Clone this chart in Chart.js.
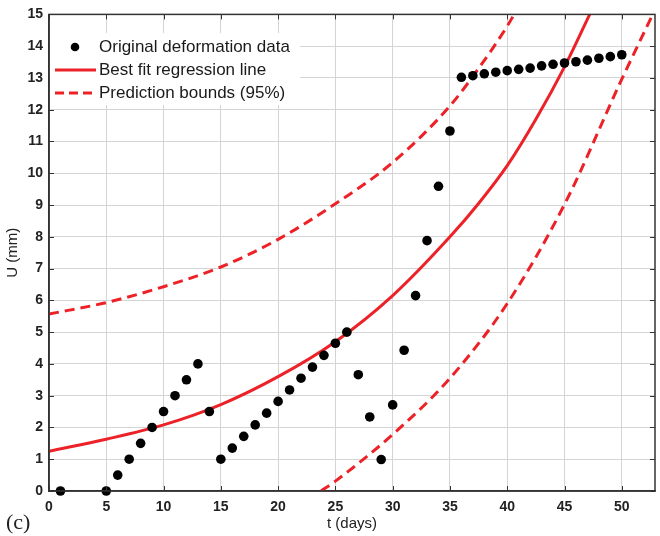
<!DOCTYPE html>
<html lang="en">
<head>
    <meta charset="UTF-8">
    <title>U vs t</title>
    <script src="https://cdn.jsdelivr.net/npm/chart.js"></script>
    <style>
        body { margin: 0; background: #fff; }
        #wrap { width: 660px; height: 536px; }
    </style>
</head>
<body>
    <div id="wrap"><canvas id="myChart" width="660" height="536"></canvas></div>
    <script>
        // observed deformation (t in days, U in mm)
        const obsT = [1, 5, 6, 7, 8, 9, 10, 11, 12, 13, 14, 15, 16, 17, 18, 19, 20, 21, 22, 23, 24, 25,
            26, 27, 28, 29, 30, 31, 32, 33, 34, 35, 36, 37, 38, 39, 40, 41, 42, 43, 44, 45, 46, 47, 48, 49, 50];
        const obsU = [0, 0, 0.5, 1.0, 1.5, 2.0, 2.5, 3.0, 3.5, 4.0, 2.5, 1.0, 1.35, 1.72, 2.08, 2.45, 2.82, 3.18, 3.55, 3.9, 4.27, 4.65,
            5.0, 3.66, 2.33, 0.99, 2.71, 4.43, 6.15, 7.88, 9.59, 11.33, 13.02, 13.07, 13.13, 13.18, 13.23, 13.27, 13.31, 13.38, 13.43, 13.47, 13.51, 13.56, 13.62, 13.67, 13.73];

        // regression curve
        const fitT = [0, 5, 10, 15, 20, 25, 30, 35, 37.5, 40, 42.5, 45, 47.2];
        const fitU = [1.25, 1.63, 2.08, 2.72, 3.6, 4.7, 6.15, 8.0, 9.05, 10.24, 11.7, 13.35, 15];

        // 95% prediction bounds
        const upT = [0, 5, 10, 15, 20, 25, 30, 35, 37.5, 40, 40.6];
        const upU = [5.57, 5.93, 6.43, 7.05, 7.92, 9.04, 10.34, 12.12, 13.3, 14.63, 15];
        const loT = [23.75, 25, 30, 35, 40, 45, 50, 52.7];
        const loU = [0, 0.31, 1.78, 3.55, 5.9, 9.02, 12.96, 15];

        const legendLabels = ['Original deformation data', 'Best fit regression line', 'Prediction bounds (95%)'];

        const red = 'rgb(236,34,40)';
        const toXY = (xs, ys) => xs.map((x, i) => ({ x: x, y: ys[i] }));

        // MATLAB-like box, inward ticks, inset legend and panel tag
        const decor = {
            id: 'decor',
            afterDatasetsDraw(chart) {
                const ctx = chart.ctx;
                const a = chart.chartArea;
                const xs = chart.scales.x, ys = chart.scales.y;
                ctx.save();
                ctx.strokeStyle = '#333';
                ctx.lineWidth = 1;
                xs.ticks.forEach(t => {
                    const px = Math.round(xs.getPixelForValue(t.value)) + 0.5;
                    ctx.beginPath();
                    ctx.moveTo(px, a.top); ctx.lineTo(px, a.top + 5);
                    ctx.moveTo(px, a.bottom); ctx.lineTo(px, a.bottom - 5);
                    ctx.stroke();
                });
                ys.ticks.forEach(t => {
                    const py = Math.round(ys.getPixelForValue(t.value)) + 0.5;
                    ctx.beginPath();
                    ctx.moveTo(a.left, py); ctx.lineTo(a.left + 5, py);
                    ctx.moveTo(a.right, py); ctx.lineTo(a.right - 5, py);
                    ctx.stroke();
                });
                ctx.lineWidth = 1.5;
                ctx.strokeRect(a.left, a.top, a.right - a.left, a.bottom - a.top);

                // legend
                const lx = a.left + 1, ly = 33;
                ctx.fillStyle = '#fff';
                ctx.fillRect(lx, ly, 250, 72);
                const rows = [47, 70, 93];
                ctx.fillStyle = '#000';
                ctx.beginPath();
                ctx.arc(75, rows[0], 4.3, 0, Math.PI * 2);
                ctx.fill();
                ctx.strokeStyle = red;
                ctx.lineWidth = 3;
                ctx.beginPath();
                ctx.moveTo(55, rows[1]); ctx.lineTo(96, rows[1]);
                ctx.stroke();
                ctx.setLineDash([9, 5]);
                ctx.beginPath();
                ctx.moveTo(55, rows[2]); ctx.lineTo(96, rows[2]);
                ctx.stroke();
                ctx.setLineDash([]);
                ctx.fillStyle = '#1a1a1a';
                ctx.font = '17px "Liberation Sans", Arial, sans-serif';
                ctx.textBaseline = 'middle';
                legendLabels.forEach((s, i) => ctx.fillText(s, 99, rows[i]));
                ctx.restore();
            },
            afterDraw(chart) {
                const ctx = chart.ctx;
                ctx.save();
                ctx.fillStyle = '#222';
                ctx.font = '22px "Liberation Serif", "Times New Roman", serif';
                ctx.textBaseline = 'middle';
                ctx.fillText('(c)', 6, 523);
                ctx.restore();
            }
        };

        const tickFont = { family: '"Liberation Sans", Arial, sans-serif', size: 14, weight: 'bold' };
        const titleFont = { family: '"Liberation Sans", Arial, sans-serif', size: 15 };

        const ctx = document.getElementById('myChart').getContext('2d');
        new Chart(ctx, {
            type: 'scatter',
            data: {
                datasets: [
                    {
                        label: legendLabels[0],
                        data: toXY(obsT, obsU),
                        backgroundColor: '#000',
                        borderWidth: 0,
                        pointRadius: 4.8,
                        clip: false,
                        order: 0
                    },
                    {
                        label: legendLabels[1],
                        data: toXY(fitT, fitU),
                        showLine: true,
                        borderColor: red,
                        borderWidth: 3,
                        pointRadius: 0,
                        cubicInterpolationMode: 'monotone',
                        order: 1
                    },
                    {
                        label: legendLabels[2],
                        data: toXY(upT, upU),
                        showLine: true,
                        borderColor: red,
                        borderWidth: 3,
                        borderDash: [10, 6],
                        pointRadius: 0,
                        cubicInterpolationMode: 'monotone',
                        order: 2
                    },
                    {
                        label: legendLabels[2],
                        data: toXY(loT, loU),
                        showLine: true,
                        borderColor: red,
                        borderWidth: 3,
                        borderDash: [10, 6],
                        pointRadius: 0,
                        cubicInterpolationMode: 'monotone',
                        order: 3
                    }
                ]
            },
            options: {
                responsive: false,
                animation: false,
                layout: { padding: { top: 12, right: 5, left: 0, bottom: 0 } },
                plugins: {
                    legend: { display: false },
                    tooltip: { enabled: false }
                },
                scales: {
                    x: {
                        type: 'linear',
                        min: 0,
                        max: 52.9,
                        afterFit: s => { s.height = 45; },
                        ticks: { stepSize: 5, includeBounds: false, padding: 8, color: '#222', font: tickFont, maxRotation: 0 },
                        grid: { color: '#d4d4d4', drawTicks: false },
                        border: { color: '#333', width: 1.5 },
                        title: { display: true, text: 't (days)', color: '#222', font: titleFont, padding: { top: 0, bottom: 3 } }
                    },
                    y: {
                        min: 0,
                        max: 15,
                        afterFit: s => { s.width = 49; },
                        ticks: { stepSize: 1, padding: 6, color: '#222', font: tickFont },
                        grid: { color: '#d4d4d4', drawTicks: false },
                        border: { color: '#333', width: 1.5 },
                        title: { display: true, text: 'U (mm)', color: '#222', font: titleFont, padding: { top: 4, bottom: 0 } }
                    }
                }
            },
            plugins: [decor]
        });
    </script>
</body>
</html>
